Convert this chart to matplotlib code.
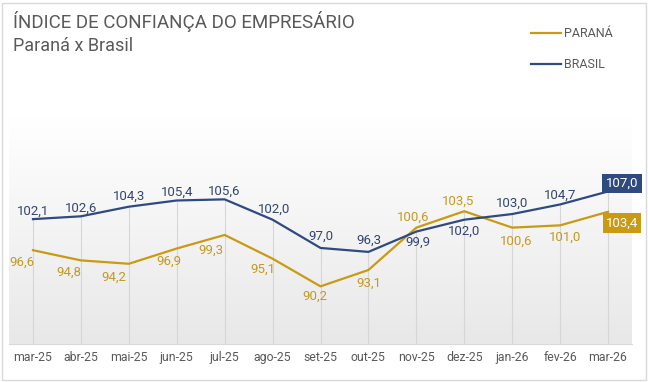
import numpy as np
import matplotlib.pyplot as plt
from matplotlib.colors import LinearSegmentedColormap
from matplotlib.patches import Rectangle

plt.rcParams['font.family'] = ['Roboto', 'DejaVu Sans']

# ---- data ----
meses = ['mar-25', 'abr-25', 'mai-25', 'jun-25', 'jul-25', 'ago-25', 'set-25',
         'out-25', 'nov-25', 'dez-25', 'jan-26', 'fev-26', 'mar-26']
parana = [96.6, 94.8, 94.2, 96.9, 99.3, 95.1, 90.2, 93.1, 100.6, 103.5, 100.6, 101.0, 103.4]
brasil = [102.1, 102.6, 104.3, 105.4, 105.6, 102.0, 97.0, 96.3, 99.9, 102.0, 103.0, 104.7, 107.0]

# label offsets in pixels (dx, dy) - layout only
off_par = [(-11, -12), (-12, -12), (-15, -13), (-8, -13), (-14, -15), (-10, -11),
           (-6, -10), (0, -13), (-3, 10), (-6, 10), (4, -14), (5, -12)]
off_bra = [(0, 8), (0, 8), (0, 10), (0, 8), (0, 8), (2, 10), (0, 12), (0, 12),
           (2, -11), (0, -12), (0, 11), (0, 9)]

c_par = '#C99A12'
c_bra = '#2F4A7E'
c_txt = '#595959'

fig = plt.figure(figsize=(6.48, 3.82), dpi=100)
fig.patches.append(Rectangle((2 / 648, 2 / 382), 644 / 648, 377 / 382, transform=fig.transFigure,
                             fill=False, ec='#d9d9d9', lw=1))

ax = fig.add_axes([9 / 648, 38 / 382, 623 / 648, 226 / 382])
x = np.arange(len(meses))
ax.set_xlim(-0.5, len(meses) - 0.5)
ax.set_ylim(80, 120)

# gradient background
cmap = LinearSegmentedColormap.from_list('g', ['#e8e8e8', '#ffffff'])
grad = np.linspace(0, 1, 256).reshape(-1, 1)
ax.imshow(grad, extent=[-0.5, len(meses) - 0.5, 80, 120], origin='lower',
          aspect='auto', cmap=cmap, zorder=0)

# drop lines
top = np.maximum(parana, brasil)
ax.vlines(x, 80, top, color='#d6d6d6', lw=0.8, zorder=1)

ax.plot(x, parana, color=c_par, lw=1.6, zorder=3, label='PARANÁ')
ax.plot(x, brasil, color=c_bra, lw=1.6, zorder=3, label='BRASIL')

fmt = lambda v: ('%.1f' % v).replace('.', ',')
for i in range(len(meses) - 1):
    ax.annotate(fmt(parana[i]), (x[i], parana[i]), xytext=off_par[i], textcoords='offset pixels',
                ha='center', va='center', fontsize=9.5, color='#C49A22', zorder=4)
    ax.annotate(fmt(brasil[i]), (x[i], brasil[i]), xytext=off_bra[i], textcoords='offset pixels',
                ha='center', va='center', fontsize=9.5, color='#34466E', zorder=4)

last = len(meses) - 1
ax.annotate(fmt(brasil[last]), (x[last], brasil[last]), xytext=(14, 8), textcoords='offset pixels',
            ha='center', va='center', fontsize=9.5, color='white', zorder=5,
            bbox=dict(boxstyle='square,pad=0.25', fc=c_bra, ec='none'))
ax.annotate(fmt(parana[last]), (x[last], parana[last]), xytext=(14, -11), textcoords='offset pixels',
            ha='center', va='center', fontsize=9.5, color='white', zorder=5,
            bbox=dict(boxstyle='square,pad=0.25', fc=c_par, ec='none'))

ax.set_xticks(x)
ax.set_xticklabels(meses, fontsize=8.8, color=c_txt)
ax.tick_params(axis='x', length=0, pad=5)
ax.set_yticks([])
for s in ['top', 'right', 'left']:
    ax.spines[s].set_visible(False)
ax.spines['bottom'].set_color('#d9d9d9')

fig.text(13 / 648, 1 - 22 / 382, 'ÍNDICE DE CONFIANÇA DO EMPRESÁRIO', fontsize=13.5,
         color=c_txt, va='center', ha='left')
fig.text(13 / 648, 1 - 46 / 382, 'Paraná x Brasil', fontsize=13,
         color=c_txt, va='center', ha='left')

fig.legend(loc='upper left', bbox_to_anchor=(520 / 648, 1 - 16 / 382), frameon=False,
           fontsize=9, labelcolor=c_txt, handlelength=2.4, handletextpad=0.2,
           labelspacing=1.45)

fig.savefig('out.png', dpi=100)
